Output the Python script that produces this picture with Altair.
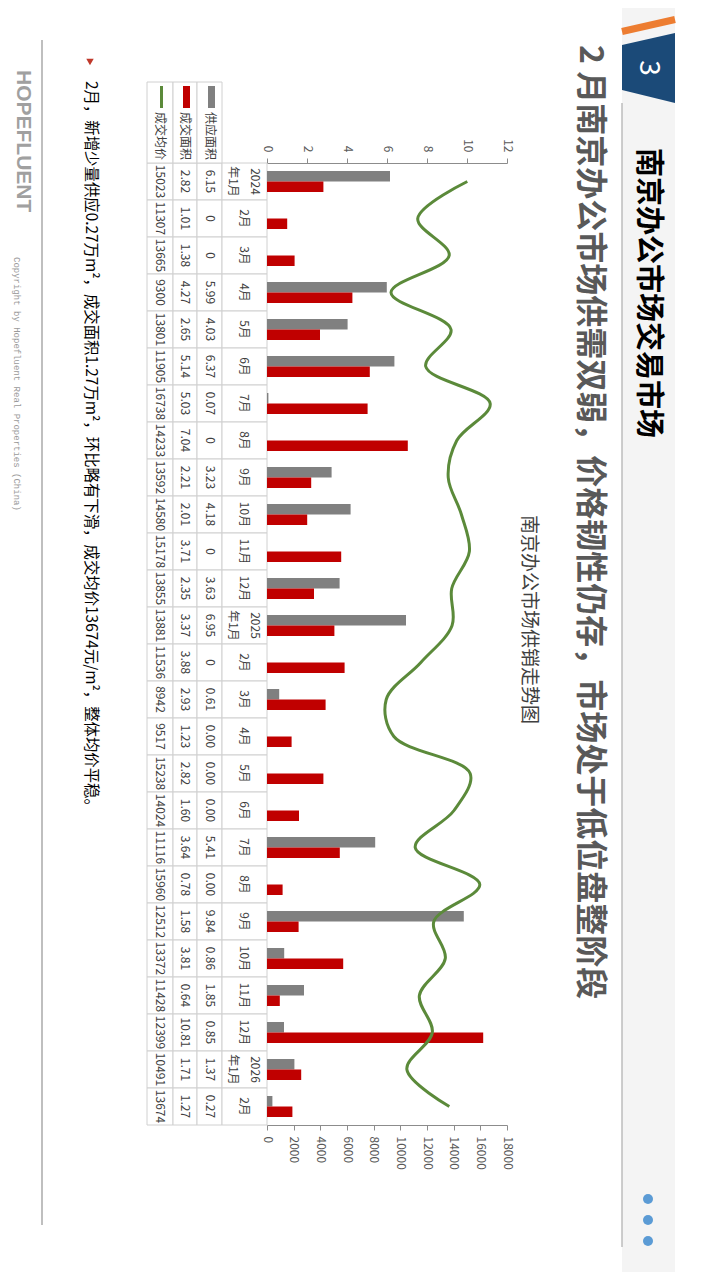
import altair as alt
import pandas as pd

CJK = "Noto Sans CJK SC"

months = ["2024\n年1月", "2月", "3月", "4月", "5月", "6月", "7月", "8月", "9月", "10月", "11月", "12月",
          "2025\n年1月", "2月", "3月", "4月", "5月", "6月", "7月", "8月", "9月", "10月", "11月", "12月",
          "2026\n年1月", "2月"]
supply = [6.15, 0, 0, 5.99, 4.03, 6.37, 0.07, 0, 3.23, 4.18, 0, 3.63,
          6.95, 0, 0.61, 0, 0, 0, 5.41, 0, 9.84, 0.86, 1.85, 0.85,
          1.37, 0.27]
supply_text = ["6.15", "0", "0", "5.99", "4.03", "6.37", "0.07", "0", "3.23", "4.18", "0", "3.63",
               "6.95", "0", "0.61", "0.00", "0.00", "0.00", "5.41", "0.00", "9.84", "0.86", "1.85", "0.85",
               "1.37", "0.27"]
deal = [2.82, 1.01, 1.38, 4.27, 2.65, 5.14, 5.03, 7.04, 2.21, 2.01, 3.71, 2.35,
        3.37, 3.88, 2.93, 1.23, 2.82, 1.60, 3.64, 0.78, 1.58, 3.81, 0.64, 10.81,
        1.71, 1.27]
price = [15023, 11307, 13665, 9300, 13801, 11905, 16738, 14233, 13592, 14580, 15178, 13855,
         13881, 11536, 8942, 9517, 15238, 14024, 11116, 15960, 12512, 13372, 11428, 12399,
         10491, 13674]
series_names = ["供应面积", "成交面积", "成交均价"]

title_main = "南京办公市场交易市场"
subtitle = "2 月南京办公市场供需双弱，价格韧性仍存，市场处于低位盘整阶段"
chart_title = "南京办公市场供销走势图"
bullet = "2月，新增少量供应0.27万m²，成交面积1.27万m²，环比略有下滑，成交均价13674元/m²，整体均价平稳。"
brand = "HOPEFLUENT"
copyright_text = "Copyright by Hopefluent Real Properties (China)"

keys = [f"m{i:02d}" for i in range(len(months))]
df = pd.DataFrame({
    "k": keys, "idx": list(range(len(months))), "month": months,
    "supply": supply, "supply_t": supply_text, "deal": deal,
    "deal_t": [f"{v:.2f}" for v in deal], "price": price,
    "price_t": [str(v) for v in price],
})
df["single"] = [m if "\n" not in m else "" for m in months]
df["line1"] = [m.split("\n")[0] if "\n" in m else "" for m in months]
df["line2"] = [m.split("\n")[1] if "\n" in m else "" for m in months]

long = pd.concat([
    pd.DataFrame({"k": keys, "series": series_names[0], "value": supply}),
    pd.DataFrame({"k": keys, "series": series_names[1], "value": deal}),
])
one = pd.DataFrame({"a": [0]})

OX, OY = 267, 163  # plot origin in page px
W, H = 240, 962

yscale = alt.Scale(paddingInner=0, paddingOuter=0)
Y = alt.Y("k:N", sort=keys, scale=yscale, axis=None)

GRID = "#d0d0d0"
TXT = "#404040"


def px(x):
    return alt.value(x - OX)


def py(y):
    return alt.value(y - OY)


def vtext(x, y, s, size, color, weight="normal", align="center", font=CJK):
    return alt.Chart(one).mark_text(
        text=s, angle=90, align=align, baseline="middle", fontSize=size,
        color=color, fontWeight=weight, font=font
    ).encode(x=px(x), y=py(y))


def box(x1, x2, y1, y2, fill, stroke=None, sw=0):
    kw = dict(fill=fill)
    if stroke:
        kw.update(stroke=stroke, strokeWidth=sw)
    return alt.Chart(one).mark_rect(**kw).encode(x=px(x1), x2=px(x2), y=py(y1), y2=py(y2))


def seg(x1, y1, x2, y2, color, sw):
    return alt.Chart(one).mark_rule(color=color, strokeWidth=sw).encode(
        x=px(x1), y=py(y1), x2=px(x2), y2=py(y2))


layers = []
# right side strip
layers.append(box(622, 675, 0, 1280, "#f4f4f4"))
layers.append(seg(622, 103, 622, 1247, "#bdbdbd", 1.5))
layers.append(seg(622, 31.5, 675, 19.5, "#ed7d31", 7))
tag_path = "M -1 -0.87 L 1 -1.32 L 1 1.32 L -1 0.83 Z"
layers.append(alt.Chart(one).mark_point(shape=tag_path, filled=True, size=2809, color="#1b4a78",
                                        opacity=1, strokeWidth=0).encode(x=px(648.5), y=py(68)))
layers.append(vtext(648, 68, "3", 28, "#ffffff"))
layers.append(vtext(648, 148, title_main, 29, "#000000", weight="bold", align="left"))
for yy in [1199, 1220, 1241]:
    layers.append(alt.Chart(one).mark_point(shape="circle", filled=True, size=100, color="#5b9bd5",
                                            opacity=1).encode(x=px(648), y=py(yy)))

# subtitle & chart title
layers.append(vtext(590, 45, subtitle, 32, "#595959", weight="bold", align="left"))
layers.append(vtext(529, 515, chart_title, 19, "#404040", align="left"))

# bullet + left brand
layers.append(alt.Chart(one).mark_point(shape="triangle-down", filled=True, size=55, color="#c0392b",
                                        opacity=1).encode(x=px(90), y=py(62)))
layers.append(vtext(91, 81, bullet, 15.4, "#000000", align="left"))
layers.append(seg(42, 40, 42, 1225, "#bfbfbf", 2))
layers.append(vtext(23, 70, brand, 21, "#a0a0a0", weight="bold", align="left", font="Liberation Sans"))
layers.append(vtext(17, 257, copyright_text, 9, "#9a9a9a", align="left", font="Liberation Mono"))

# data table
cols = [(147, 173), (173, 197), (197, 222), (222, 267)]
for (a, b) in cols:
    layers.append(alt.Chart(df).mark_rect(fill="white", stroke=GRID, strokeWidth=1).encode(
        x=px(a), x2=px(b), y=Y))
for (a, b) in cols[:3]:
    layers.append(box(a, b, 82, 163, "white", GRID, 1))

text_base = dict(angle=90, align="center", baseline="middle", fontSize=12, font=CJK, color=TXT)
layers.append(alt.Chart(df).mark_text(**text_base).encode(x=px(243.5), y=Y, text="single:N"))
layers.append(alt.Chart(df).mark_text(**text_base).encode(x=px(255), y=Y, text="line1:N"))
layers.append(alt.Chart(df).mark_text(**text_base).encode(x=px(233), y=Y, text="line2:N"))
layers.append(alt.Chart(df).mark_text(**text_base).encode(x=px(210), y=Y, text="supply_t:N"))
layers.append(alt.Chart(df).mark_text(**text_base).encode(x=px(185), y=Y, text="deal_t:N"))
layers.append(alt.Chart(df).mark_text(**text_base).encode(x=px(159.5), y=Y, text="price_t:N"))

# header legend
layers.append(box(208, 215, 86, 108, "#808080"))
layers.append(box(183, 190, 86, 108, "#c00000"))
layers.append(seg(161.5, 86, 161.5, 108, "#5b8a3a", 3))
for xx, s in [(210, series_names[0]), (185, series_names[1]), (160, series_names[2])]:
    layers.append(vtext(xx, 136, s, 12, TXT))

axis_common = dict(labelAngle=90, labelFont=CJK, labelFontSize=12, labelColor="#595959",
                   domainColor="#8c8c8c", tickColor="#8c8c8c", tickSize=5, grid=False,
                   title=None, labelBaseline="middle", labelPadding=6, labelFlush=False, format="d")

bars = alt.Chart(long).mark_bar().encode(
    x=alt.X("value:Q", scale=alt.Scale(domain=[0, 12], nice=False),
            axis=alt.Axis(orient="top", values=[0, 2, 4, 6, 8, 10, 12], labelAlign="right", **axis_common)),
    y=Y,
    yOffset=alt.YOffset("series:N", sort=series_names[:2],
                        scale=alt.Scale(paddingInner=0, paddingOuter=0.76)),
    color=alt.Color("series:N", scale=alt.Scale(domain=series_names[:2], range=["#808080", "#c00000"]),
                    legend=None),
)

line = alt.Chart(df).mark_line(interpolate="catmull-rom", color="#5b8a3a", strokeWidth=3,
                               orient="vertical").encode(
    x=alt.X("price:Q", scale=alt.Scale(domain=[0, 18000], nice=False),
            axis=alt.Axis(orient="bottom", values=list(range(0, 18001, 2000)), labelAlign="left",
                          **axis_common)),
    y=Y,
    order=alt.Order("idx:Q"),
)

chart = alt.layer(*layers, bars, line).resolve_scale(x="independent").properties(
    width=W, height=H,
    autosize=alt.AutoSizeParams(type="none"),
    padding={"left": OX - 8, "top": OY - 8, "right": 704 - (OX - 8) - W, "bottom": 1264 - (OY - 8) - H},
    background="white",
).configure_view(stroke=None)

chart.save("out.html", embed_options={"renderer": "svg", "actions": False})
